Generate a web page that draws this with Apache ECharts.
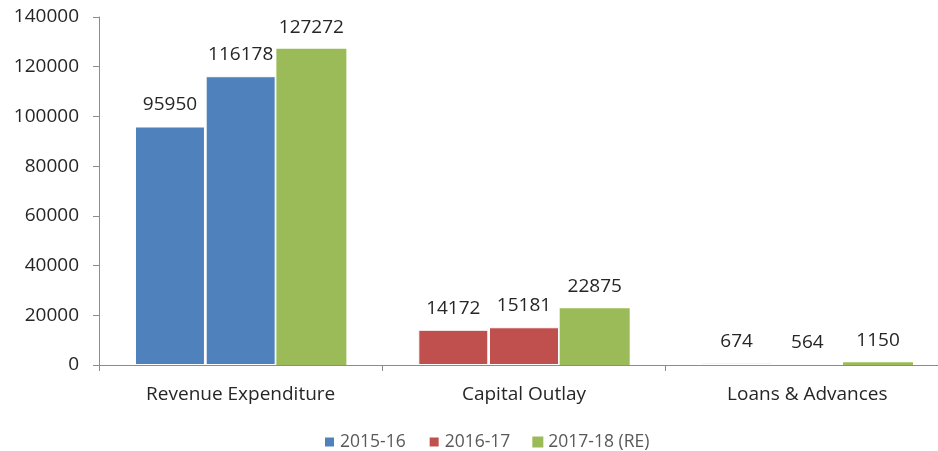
<!DOCTYPE html>
<html>
<head>
<meta charset="utf-8">
<script src="https://cdn.jsdelivr.net/npm/echarts@6/dist/echarts.min.js"></script>
<style>html,body{margin:0;padding:0;background:#fff;overflow:hidden;width:938px;height:451px;}#c{width:950px;height:451px;}</style>
</head>
<body>
<div id="c"></div>
<script>
var categories = ['Revenue Expenditure', 'Capital Outlay', 'Loans & Advances'];
var seriesNames = ['2015-16', '2016-17', '2017-18 (RE)'];
var values2015 = [95950, 14172, 674];
var values2016 = [116178, 15181, 564];
var values2017 = [127272, 22875, 1150];
var yTicks = [0, 20000, 40000, 60000, 80000, 100000, 120000, 140000];

var BLUE = '#4F81BD', RED = '#C0504D', GREEN = '#9BBB59';
var seriesColors = [BLUE, RED, GREEN];
// the first two series are coloured by category in the reference
var categoryColors = [BLUE, RED, BLUE];
var FONT = 'Open Sans';

function makeData(vals, useCategoryColor) {
  return vals.map(function (v, i) {
    if (!useCategoryColor) return v;
    return { value: v, itemStyle: { color: categoryColors[i] } };
  });
}

var allVals = [values2015, values2016, values2017];
var series = allVals.map(function (vals, k) {
  return {
    name: seriesNames[k],
    type: 'bar',
    data: makeData(vals, k < 2),
    barWidth: 70,
    barGap: '1%',
    itemStyle: { color: seriesColors[k], borderColor: '#ffffff', borderWidth: k < 2 ? 1 : 0 },
    label: {
      show: true, position: 'top', distance: 12,
      color: '#262626', fontFamily: FONT, fontSize: 19
    }
  };
});

var chart = echarts.init(document.getElementById('c'), null, { renderer: 'canvas' });
chart.setOption({
  animation: false,
  color: seriesColors,
  grid: { left: 99, right: 1, top: 17, bottom: 86, containLabel: false },
  legend: {
    top: 428, left: 318,
    itemWidth: 11, itemHeight: 11, itemGap: 22,
    icon: 'rect',
    textStyle: { color: '#595959', fontFamily: FONT, fontSize: 17.5 },
    data: seriesNames
  },
  xAxis: {
    type: 'category',
    data: categories,
    axisLine: { lineStyle: { color: '#8c8c8c', width: 1 } },
    axisTick: { show: true, length: 6, lineStyle: { color: '#8c8c8c' } },
    axisLabel: { color: '#262626', fontFamily: FONT, fontSize: 19, margin: 20 }
  },
  yAxis: {
    type: 'value',
    min: yTicks[0], max: yTicks[yTicks.length - 1], interval: 20000,
    axisLine: { show: true, lineStyle: { color: '#8c8c8c', width: 1 } },
    axisTick: { show: true, length: 6, lineStyle: { color: '#8c8c8c' } },
    splitLine: { show: false },
    axisLabel: { color: '#262626', fontFamily: FONT, fontSize: 19, margin: 20,
      formatter: function (v) { return String(v); } }
  },
  series: series
});
</script>
</body>
</html>
